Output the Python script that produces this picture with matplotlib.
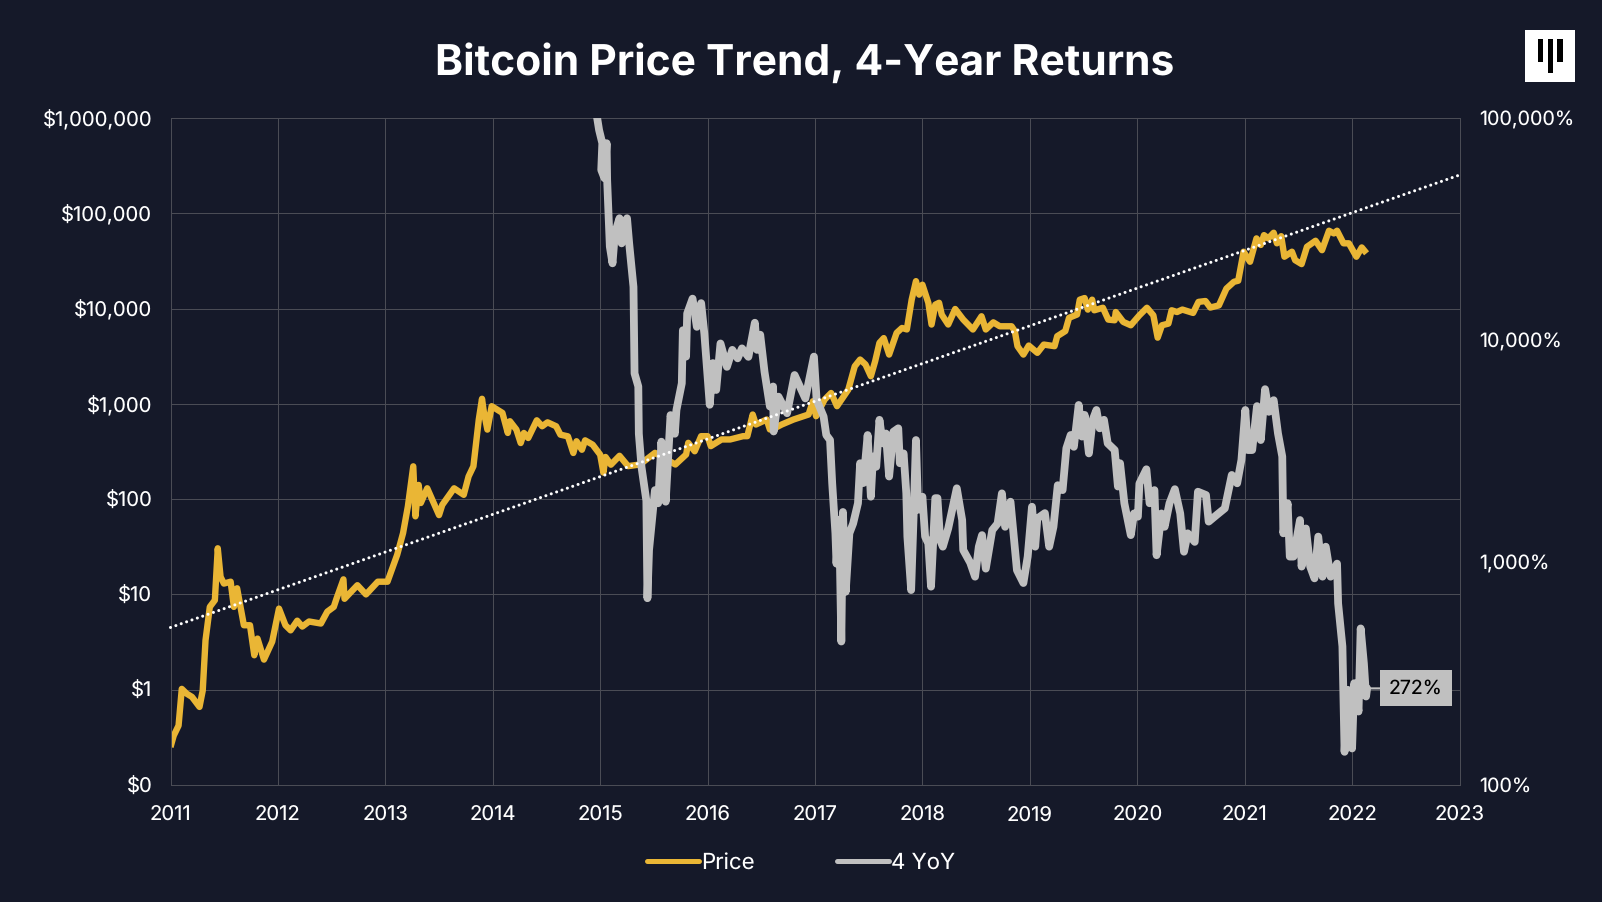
import matplotlib
matplotlib.use("Agg")
import matplotlib.pyplot as plt
from matplotlib.lines import Line2D
from matplotlib.patches import Rectangle
from matplotlib.ticker import FixedLocator, NullLocator, FixedFormatter

BG = "#151929"
GRID = "#4A4C55"
GOLD = "#EAB635"
GREY = "#C0C0C0"
WHITE = "#FFFFFF"

TITLE = "Bitcoin Price Trend, 4-Year Returns"
year_ticks = list(range(2011, 2024))
price_ticks = [0.1, 1, 10, 100, 1000, 10000, 100000, 1000000]
price_labels = ["$0", "$1", "$10", "$100", "$1,000", "$10,000", "$100,000", "$1,000,000"]
yoy_ticks = [100, 1000, 10000, 100000]
yoy_labels = ["100%", "1,000%", "10,000%", "100,000%"]

price_years = [
    2011.0, 2011.03, 2011.075, 2011.105, 2011.15, 2011.2, 2011.27, 2011.30, 2011.326, 2011.366,
    2011.413, 2011.44, 2011.466, 2011.497, 2011.56, 2011.59, 2011.62, 2011.683, 2011.74, 2011.78,
    2011.81, 2011.87, 2011.947, 2012.01, 2012.07, 2012.118, 2012.18, 2012.227, 2012.29, 2012.40,
    2012.46, 2012.52, 2012.545, 2012.61, 2012.62, 2012.74, 2012.82, 2012.93, 2013.02, 2013.11,
    2013.165, 2013.21, 2013.26, 2013.28, 2013.31, 2013.33, 2013.39, 2013.50, 2013.53, 2013.64,
    2013.73, 2013.775, 2013.82, 2013.87, 2013.90, 2013.916, 2013.95, 2013.99, 2014.09, 2014.14,
    2014.16, 2014.22, 2014.26, 2014.29, 2014.33, 2014.41, 2014.46, 2014.51, 2014.59, 2014.63,
    2014.70, 2014.75, 2014.78, 2014.83, 2014.86, 2014.93, 2015.0, 2015.03, 2015.05, 2015.10,
    2015.18, 2015.26, 2015.37, 2015.51, 2015.70, 2015.80, 2015.82, 2015.88, 2015.94, 2016.0,
    2016.03, 2016.13, 2016.21, 2016.33, 2016.37, 2016.42, 2016.45, 2016.55, 2016.58, 2016.63,
    2016.69, 2016.80, 2016.94, 2016.98, 2017.01, 2017.09, 2017.15, 2017.205, 2017.31, 2017.37,
    2017.42, 2017.47, 2017.52, 2017.56, 2017.60, 2017.64, 2017.69, 2017.76, 2017.81, 2017.855,
    2017.90, 2017.94, 2017.97, 2018.0, 2018.055, 2018.085, 2018.12, 2018.155, 2018.18, 2018.24,
    2018.305, 2018.38, 2018.47, 2018.55, 2018.59, 2018.66, 2018.72, 2018.83, 2018.86, 2018.885,
    2018.94, 2018.99, 2019.07, 2019.13, 2019.23, 2019.255, 2019.33, 2019.365, 2019.44, 2019.465,
    2019.51, 2019.54, 2019.58, 2019.60, 2019.68, 2019.73, 2019.79, 2019.80, 2019.87, 2019.94,
    2020.02, 2020.09, 2020.15, 2020.19, 2020.23, 2020.29, 2020.32, 2020.37, 2020.42, 2020.52,
    2020.57, 2020.635, 2020.68, 2020.76, 2020.83, 2020.90, 2020.94, 2020.99, 2021.05, 2021.11,
    2021.15, 2021.18, 2021.22, 2021.27, 2021.30, 2021.34, 2021.37, 2021.44, 2021.47, 2021.53,
    2021.58, 2021.66, 2021.72, 2021.785, 2021.83, 2021.86, 2021.92, 2021.97, 2022.04, 2022.09,
    2022.135,
]
price_values = [
    0.25, 0.33, 0.42, 1.02, 0.91, 0.84, 0.66, 0.98, 3.3, 7.4,
    8.7, 30.5, 15.3, 13, 13.6, 7.4, 11.6, 4.75, 4.75, 2.3,
    3.44, 2.07, 3.2, 7.1, 4.75, 4.2, 5.3, 4.6, 5.2, 4.95,
    6.6, 7.4, 9, 14.4, 9, 12.5, 10, 13.6, 13.6, 26,
    44, 84, 221, 66, 141, 91, 130, 68, 87, 130,
    111, 173, 221, 684, 1130, 837, 537, 945, 804, 495,
    657, 537, 388, 495, 438, 672, 582, 640, 582, 475,
    456, 305, 405, 330, 414, 373, 293, 190, 277, 230,
    285, 222, 231, 306, 231, 294, 390, 318, 458, 458,
    360, 423, 423, 458, 458, 773, 607, 685, 538, 560,
    607, 685, 773, 1065, 742, 1110, 1300, 945, 1410, 2480,
    2920, 2590, 1950, 2800, 4370, 4900, 3290, 5560, 6260, 6040,
    12400, 19400, 14000, 17800, 11500, 6800, 11000, 11500, 8630, 6800,
    9900, 7670, 6030, 8300, 6030, 7170, 6520, 6520, 5800, 4030,
    3290, 4090, 3430, 4190, 4030, 5130, 5800, 8000, 8660, 12400,
    12900, 9750, 12400, 9600, 10200, 7660, 7540, 9200, 7240, 6680,
    8500, 10200, 8500, 4950, 6680, 6950, 9600, 9200, 9760, 9000,
    11750, 12000, 10250, 10800, 16200, 19100, 19600, 39500, 31000, 54500,
    46500, 59000, 54500, 62500, 48400, 57500, 35000, 39500, 32200, 29300,
    44500, 51500, 41000, 65600, 61500, 65600, 48400, 48400, 35000, 43800,
    38000,
]

yoy_years = [
    2014.965, 2014.99, 2015.02, 2015.01, 2015.04, 2015.06, 2015.065, 2015.09, 2015.115, 2015.137,
    2015.18, 2015.20, 2015.25, 2015.27, 2015.31, 2015.32, 2015.355, 2015.36, 2015.385, 2015.43,
    2015.44, 2015.455, 2015.51, 2015.54, 2015.57, 2015.61, 2015.655, 2015.695, 2015.71, 2015.76,
    2015.77, 2015.80, 2015.81, 2015.86, 2015.90, 2015.94, 2015.97, 2016.02, 2016.05, 2016.08,
    2016.12, 2016.18, 2016.23, 2016.28, 2016.32, 2016.38, 2016.44, 2016.46, 2016.49, 2016.53,
    2016.58, 2016.61, 2016.615, 2016.66, 2016.74, 2016.81, 2016.91, 2016.99, 2017.015, 2017.08,
    2017.105, 2017.14, 2017.16, 2017.19, 2017.2, 2017.225, 2017.245, 2017.26, 2017.286, 2017.32,
    2017.355, 2017.40, 2017.42, 2017.45, 2017.49, 2017.52, 2017.54, 2017.57, 2017.60, 2017.63,
    2017.66, 2017.69, 2017.73, 2017.775, 2017.79, 2017.825, 2017.85, 2017.86, 2017.895, 2017.92,
    2017.94, 2017.96, 2018.0, 2018.025, 2018.055, 2018.08, 2018.12, 2018.14, 2018.165, 2018.19,
    2018.24, 2018.32, 2018.37, 2018.38, 2018.445, 2018.49, 2018.525, 2018.555, 2018.59, 2018.65,
    2018.70, 2018.74, 2018.77, 2018.82, 2018.88, 2018.94, 2018.98, 2019.02, 2019.05, 2019.07,
    2019.14, 2019.18, 2019.22, 2019.26, 2019.305, 2019.34, 2019.38, 2019.41, 2019.455, 2019.485,
    2019.51, 2019.55, 2019.585, 2019.62, 2019.65, 2019.69, 2019.725, 2019.79, 2019.82, 2019.84,
    2019.88, 2019.94, 2019.97, 2020.006, 2020.02, 2020.085, 2020.115, 2020.16, 2020.18, 2020.225,
    2020.255, 2020.30, 2020.35, 2020.40, 2020.435, 2020.47, 2020.535, 2020.565, 2020.64, 2020.665,
    2020.74, 2020.815, 2020.88, 2020.93, 2020.97, 2021.006, 2021.03, 2021.07, 2021.115, 2021.15,
    2021.19, 2021.225, 2021.27, 2021.31, 2021.35, 2021.36, 2021.40, 2021.42, 2021.455, 2021.515,
    2021.53, 2021.57, 2021.61, 2021.65, 2021.685, 2021.725, 2021.755, 2021.80, 2021.86, 2021.87,
    2021.91, 2021.93, 2021.96, 2022.0, 2022.02, 2022.06, 2022.08, 2022.11, 2022.13, 2022.14,
]
yoy_values = [
    105000, 88300, 77000, 58400, 53600, 77000, 52600, 26400, 22200, 30300,
    35400, 27300, 35400, 27300, 17400, 7100, 6200, 3800, 2690, 1900,
    692, 1140, 2120, 1850, 3500, 1880, 4610, 3800, 4860, 6410,
    11100, 8450, 13200, 15400, 11500, 14700, 10700, 5130, 7900, 5980,
    9680, 7600, 9060, 8300, 9200, 8430, 12000, 9060, 10600, 7220,
    5040, 6200, 3890, 5580, 4700, 6980, 5480, 8450, 5400, 4540,
    3750, 3560, 2280, 1355, 990, 1560, 442, 1690, 740, 1355,
    1500, 1850, 2800, 2280, 3750, 1980, 3000, 2700, 4390, 3440,
    3810, 2440, 3880, 4020, 2800, 3100, 2050, 1310, 753, 1730,
    3560, 1730, 1980, 1310, 1220, 780, 1950, 1950, 1265, 1180,
    1425, 2160, 1555, 1140, 1000, 865, 1180, 1330, 940, 1400,
    1500, 2050, 1450, 1880, 925, 810, 1065, 1785, 1180, 1580,
    1670, 1180, 1450, 2230, 2120, 3270, 3750, 3320, 5120, 3690,
    4620, 3100, 4390, 4860, 4020, 4390, 3440, 3210, 2200, 2800,
    1850, 1330, 1665, 1610, 2270, 2630, 1850, 2120, 1080, 1665,
    1450, 1850, 2140, 1665, 1120, 1355, 1240, 2085, 2015, 1530,
    1640, 1755, 2480, 2275, 2900, 4860, 3210, 3210, 5060, 3560,
    6030, 4770, 5380, 3820, 3000, 1355, 1850, 1065, 1065, 1555,
    960, 1425, 960, 850, 1310, 865, 1180, 865, 990, 656,
    420, 141, 268, 146, 287, 214, 506, 352, 250, 272,
]

trend_years = [2011, 2023]
trend_values = [4.5, 252000]

W, H = 1602, 902
L, R, T, B = 170.5, 1459.5, 118, 785

plt.rcParams["font.family"] = ["Inter", "DejaVu Sans"]
plt.rcParams["text.hinting"] = "none"
fig = plt.figure(figsize=(W / 100, H / 100), dpi=100, facecolor=BG)
ax = fig.add_axes([L / W, 1 - B / H, (R - L) / W, (B - T) / H], facecolor=BG)
ax.set_yscale("log")
ax.set_xlim(2011, 2023)
ax.set_ylim(0.1, 1000000)
ax.xaxis.set_major_locator(FixedLocator(year_ticks))
ax.xaxis.set_major_formatter(FixedFormatter([str(y) for y in year_ticks]))
ax.yaxis.set_major_locator(FixedLocator(price_ticks))
ax.yaxis.set_major_formatter(FixedFormatter(price_labels))
ax.yaxis.set_minor_locator(NullLocator())
ax.grid(True, color=GRID, lw=0.72)
ax.set_axisbelow(True)
ax.tick_params(axis="both", length=0, labelsize=14.6, labelcolor=WHITE)
ax.tick_params(axis="x", pad=15)
ax.tick_params(axis="y", pad=13)
for s in ax.spines.values():
    s.set_color(GRID)
    s.set_linewidth(0.72)

ax.plot(price_years, price_values, color=GOLD, lw=4.6, solid_joinstyle="round",
        solid_capstyle="butt", label="Price")

ax2 = ax.twinx()
ax2.set_yscale("log")
ax2.set_ylim(100, 100000)
ax2.yaxis.set_major_locator(FixedLocator(yoy_ticks))
ax2.yaxis.set_major_formatter(FixedFormatter(yoy_labels))
ax2.yaxis.set_minor_locator(NullLocator())
ax2.tick_params(axis="y", length=0, labelsize=14.2, labelcolor=WHITE, pad=14.5)
for s in ax2.spines.values():
    s.set_visible(False)

ax2.plot(yoy_years, yoy_values, color=GREY, lw=5.6, solid_joinstyle="round",
         solid_capstyle="round", label="4 YoY")

ax2.plot(trend_years, trend_values, transform=ax.transData, color=WHITE, lw=2.2,
         linestyle=(0, (0.01, 1.85)), dash_capstyle="round", clip_on=False)

ax2.annotate(
    "272%", xy=(yoy_years[-1], yoy_values[-1]), xytext=(35, 0),
    textcoords="offset points", ha="center", va="center", color="#000000", fontsize=14,
    bbox=dict(boxstyle="square,pad=0.46", fc=GREY, ec="none"),
    arrowprops=dict(arrowstyle="-", color=GREY, lw=1.5, shrinkA=0, shrinkB=0),
)

fig.text(804.5 / W, 1 - 63 / H, TITLE, ha="center", va="center", color=WHITE,
         fontsize=30.6, fontweight="bold")

handles = [Line2D([], [], color=GOLD, lw=3.6, solid_capstyle="round"),
           Line2D([], [], color=GREY, lw=3.6, solid_capstyle="round")]
fig.legend(handles, ["Price", "4 YoY"], loc="center", bbox_to_anchor=(801 / W, 1 - 863 / H),
           ncols=2, frameon=False, fontsize=16, labelcolor=WHITE, handlelength=2.35,
           handletextpad=0.08, columnspacing=3.7)


def px_rect(x0, y0, x1, y1, color):
    fig.add_artist(Rectangle((x0 / W, 1 - y1 / H), (x1 - x0) / W, (y1 - y0) / H,
                             transform=fig.transFigure, fc=color, ec="none"))


px_rect(1525, 30, 1575, 81.7, WHITE)
px_rect(1537.7, 39.3, 1543, 62, "#000000")
px_rect(1547.5, 39.3, 1552.7, 72.7, "#000000")
px_rect(1557.3, 39.3, 1562.5, 62, "#000000")

fig.savefig("out.png", dpi=100, facecolor=BG)
